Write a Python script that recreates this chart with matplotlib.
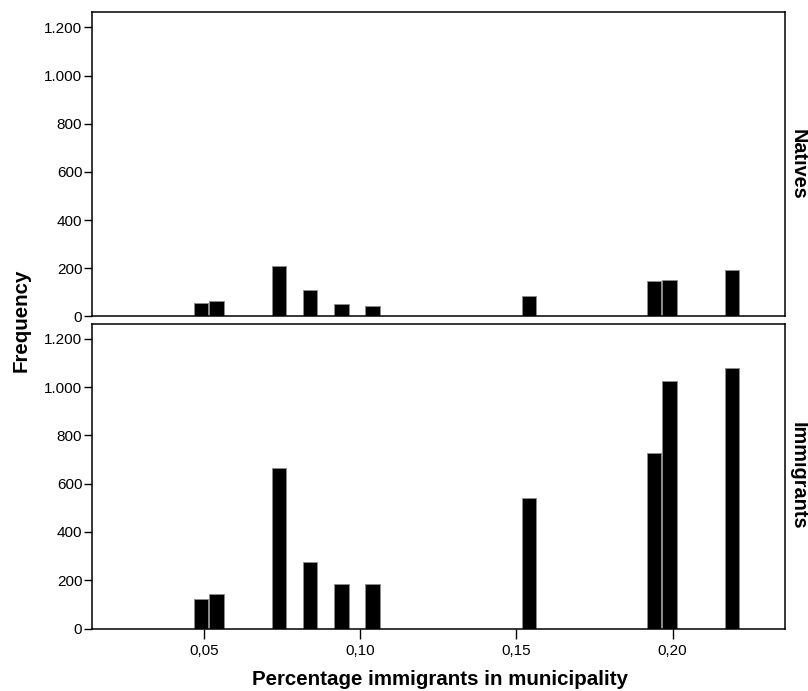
#!/usr/bin/env python3
"""Frequency of natives and immigrants by share of immigrants in the municipality."""

import matplotlib
matplotlib.use("Agg")
import matplotlib.pyplot as plt
from matplotlib.ticker import FuncFormatter

plt.rcParams['font.family'] = ['Liberation Sans', 'DejaVu Sans']

# share of immigrants in the municipality (bar centres)
pct_immigrants = [0.049, 0.054, 0.074, 0.084, 0.094, 0.104, 0.154, 0.194, 0.199, 0.219]
natives = [58, 64, 208, 110, 50, 44, 84, 148, 151, 195]
immigrants = [124, 145, 664, 274, 186, 185, 540, 728, 1024, 1077]
panel_names = ['Natives', 'Immigrants']
y_ticks = [0, 200, 400, 600, 800, 1000, 1200]
x_ticks = [0.05, 0.10, 0.15, 0.20]


def thousands(v, pos):
    return f"{int(v):,}".replace(',', '.')


def decimals(v, pos):
    return f"{v:.2f}".replace('.', ',')


fig = plt.figure(figsize=(8.08, 6.91), dpi=100)
ax_top = fig.add_axes([0.1139, 0.5420, 0.858, 0.4402])
ax_bot = fig.add_axes([0.1139, 0.0904, 0.858, 0.4414], sharex=ax_top)

for ax, counts, name in zip([ax_top, ax_bot], [natives, immigrants], panel_names):
    ax.bar(pct_immigrants, counts, width=0.0046, color='black',
           edgecolor='0.55', linewidth=0.7)
    ax.set_ylim(0, 1263)
    ax.set_yticks(y_ticks)
    ax.yaxis.set_major_formatter(FuncFormatter(thousands))
    ax.tick_params(axis='y', direction='out', length=6, width=1, pad=1,
                   labelsize=11)
    for s in ax.spines.values():
        s.set_linewidth(1.1)
    # panel label on the right, centred on the axes
    box = ax.get_position()
    fig.text(0.9875, (box.y0 + box.y1) / 2, name, rotation=-90,
             ha='center', va='center', fontsize=14.3, fontweight='bold')

ax_top.set_xlim(0.0142, 0.2361)
ax_top.tick_params(axis='x', bottom=False, labelbottom=False)
ax_bot.set_xticks(x_ticks)
ax_bot.xaxis.set_major_formatter(FuncFormatter(decimals))
ax_bot.tick_params(axis='x', direction='out', length=7, width=1, pad=4,
                   labelsize=11)

fig.text(0.0266, 0.537, 'Frequency', rotation=90, ha='center', va='center',
         fontsize=14.8, fontweight='bold')
fig.text(0.545, 0.016, 'Percentage immigrants in municipality', ha='center',
         va='center', fontsize=14.8, fontweight='bold')

fig.savefig('out.png', dpi=100)
